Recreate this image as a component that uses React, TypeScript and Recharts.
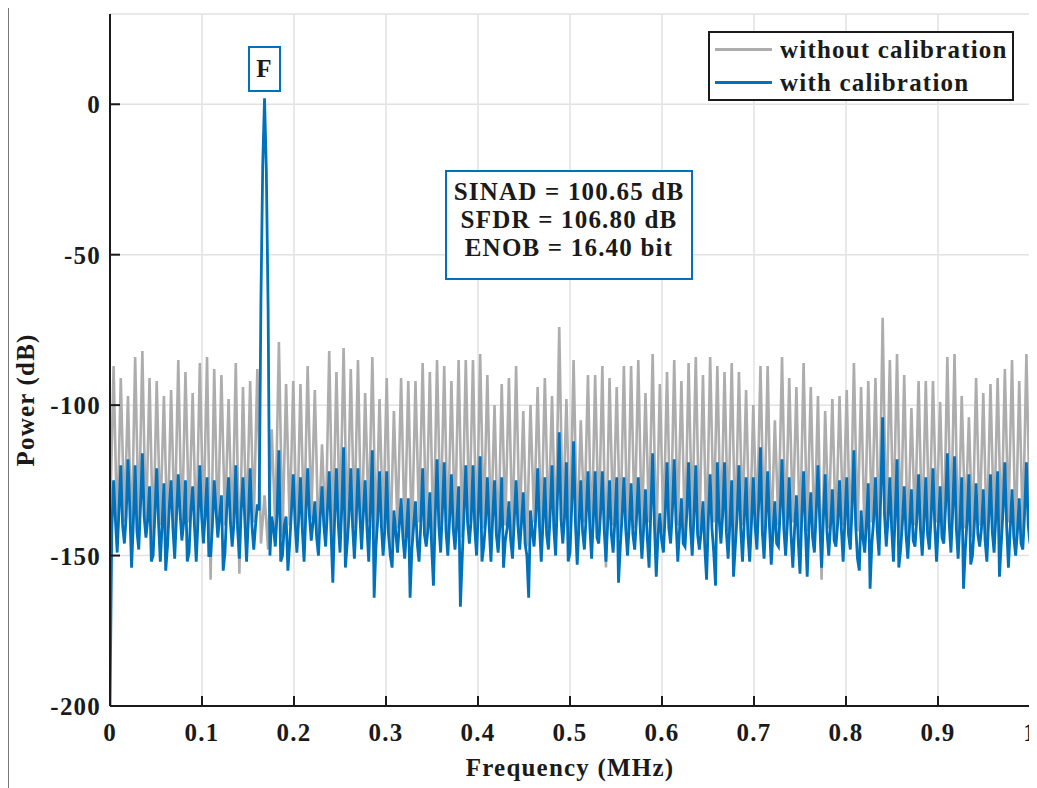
import React from "react";
import { LineChart, Line, XAxis, YAxis, CartesianGrid, Legend } from "recharts";

const FONT = '"Liberation Serif", "Times New Roman", serif';
const INK = "#1a1a1a";
const BLUE = "#0072bd";
const GREY = "#adadad";

const xTicks = [0, 0.1, 0.2, 0.3, 0.4, 0.5, 0.6, 0.7, 0.8, 0.9, 1];
const yTicks = [-200, -150, -100, -50, 0];
const seriesNames = ["without calibration", "with calibration"];

// spur peaks of the uncalibrated spectrum, one per 1/128 MHz
const greyPeaks = [
  -87, -91, -97, -84, -82, -91, -92, -97, -95, -85,
  -89, -96, -86, -84, -88, -90, -98, -86, -94, -92,
  -88, -130, -108, -79, -93, -92, -93, -87, -95, -113,
  -82, -89, -81, -88, -85, -96, -84, -98, -91, -102,
  -91, -92, -92, -86, -89, -85, -87, -92, -85, -85,
  -85, -83, -90, -100, -93, -91, -87, -102, -100, -94,
  -91, -97, -74, -98, -85, -105, -90, -90, -87, -91,
  -94, -87, -87, -85, -96, -83, -93, -89, -85, -92,
  -86, -84, -90, -84, -87, -89, -86, -89, -95, -100,
  -87, -87, -105, -84, -91, -94, -86, -94, -97, -102,
  -98, -97, -95, -86, -94, -92, -91, -71, -85, -83,
  -90, -101, -92, -92, -92, -99, -84, -83, -97, -104,
  -91, -96, -93, -91, -88, -85, -92, -83,
];

// floor between the spurs of the uncalibrated spectrum
const greyTroughs = [
  -140, -144, -139, -146, -141, -143, -147, -140, -145, -142,
  -144, -139, -146, -141, -158, -143, -140, -145, -156, -142,
  -139, -146, -148, -141, -144, -140, -147, -142, -138, -145,
  -143, -146, -140, -144, -141, -147, -139, -145, -142, -148,
  -141, -144, -146, -139, -143, -147, -140, -145, -142, -144,
  -139, -146, -141, -143, -148, -140, -145, -142, -147, -139,
  -144, -141, -146, -140, -143, -145, -139, -147, -142, -154,
  -140, -144, -146, -141, -143, -139, -148, -142, -145, -140,
  -146, -141, -143, -147, -139, -144, -142, -145, -140, -146,
  -141, -143, -147, -140, -144, -139, -146, -142, -145, -158,
  -141, -144, -140, -147, -142, -145, -139, -146, -143, -141,
  -144, -147, -140, -145, -142, -139, -146, -143, -148, -141,
  -144, -140, -146, -142, -145, -139, -147, -143, -140,
];

// calibrated spectrum, 512 bins over 0..1 MHz (+ last bin)
const blueSpectrum = [
  -200, -141, -125, -138, -149, -135, -120, -140,
  -146, -137, -118, -134, -154, -139, -120, -142,
  -148, -133, -116, -137, -144, -138, -127, -152,
  -150, -136, -121, -139, -152, -140, -126, -155,
  -147, -134, -125, -141, -151, -137, -123, -136,
  -145, -139, -125, -152, -149, -135, -127, -140,
  -152, -138, -120, -137, -146, -136, -124, -150,
  -150, -140, -125, -135, -144, -137, -130, -155,
  -149, -134, -124, -139, -147, -139, -120, -141,
  -151, -135, -124, -138, -152, -138, -121, -140,
  -148, -140, -133, -135, -65, -20, 2, -22,
  -68, -150, -137, -141, -147, -136, -115, -152,
  -150, -140, -137, -155, -146, -135, -123, -139,
  -149, -138, -124, -141, -152, -136, -121, -137,
  -145, -139, -132, -144, -150, -137, -127, -140,
  -147, -135, -122, -142, -159, -138, -121, -139,
  -149, -134, -114, -154, -146, -137, -121, -140,
  -151, -139, -121, -136, -148, -136, -125, -141,
  -152, -133, -115, -164, -147, -138, -122, -140,
  -150, -141, -122, -143, -150, -154, -135, -142,
  -149, -140, -131, -144, -151, -142, -131, -164,
  -148, -140, -132, -146, -152, -139, -121, -143,
  -147, -141, -129, -147, -160, -137, -118, -140,
  -149, -135, -119, -142, -150, -138, -123, -141,
  -148, -139, -127, -167, -151, -136, -120, -139,
  -146, -138, -120, -141, -150, -135, -117, -152,
  -147, -139, -124, -140, -152, -137, -125, -143,
  -149, -140, -124, -154, -145, -141, -132, -145,
  -151, -138, -125, -140, -148, -139, -129, -146,
  -150, -164, -135, -142, -147, -137, -121, -140,
  -152, -139, -124, -143, -148, -136, -120, -141,
  -150, -131, -109, -138, -146, -137, -119, -152,
  -149, -133, -112, -139, -153, -140, -125, -142,
  -148, -137, -122, -140, -151, -138, -122, -144,
  -146, -136, -122, -141, -152, -139, -125, -143,
  -149, -138, -124, -159, -147, -137, -124, -141,
  -150, -140, -126, -143, -148, -138, -124, -140,
  -151, -141, -128, -144, -154, -135, -116, -140,
  -157, -143, -136, -145, -149, -136, -119, -141,
  -146, -135, -118, -139, -152, -141, -131, -146,
  -147, -136, -119, -140, -150, -137, -120, -143,
  -148, -142, -132, -147, -158, -138, -123, -141,
  -149, -160, -119, -138, -146, -136, -119, -142,
  -151, -139, -125, -157, -147, -137, -120, -141,
  -152, -138, -124, -143, -152, -139, -124, -140,
  -148, -133, -114, -142, -151, -138, -122, -140,
  -153, -142, -132, -146, -147, -135, -118, -141,
  -150, -139, -124, -143, -154, -141, -130, -145,
  -156, -137, -122, -141, -157, -140, -129, -144,
  -149, -136, -120, -139, -154, -138, -123, -142,
  -150, -140, -128, -145, -147, -139, -125, -141,
  -152, -138, -124, -143, -148, -134, -115, -140,
  -151, -155, -135, -144, -149, -139, -126, -161,
  -146, -138, -124, -142, -150, -129, -104, -136,
  -147, -138, -124, -141, -152, -136, -118, -154,
  -148, -139, -127, -143, -151, -140, -128, -145,
  -147, -138, -123, -141, -150, -139, -124, -143,
  -148, -137, -121, -140, -152, -140, -127, -144,
  -146, -134, -116, -139, -149, -135, -117, -141,
  -151, -139, -124, -161, -148, -138, -123, -153,
  -150, -140, -126, -143, -147, -141, -128, -145,
  -152, -138, -123, -142, -149, -137, -122, -157,
  -146, -135, -119, -140, -154, -141, -128, -144,
  -150, -142, -131, -146, -148, -136, -119, -140,
  -146,
];

const greyData = greyTroughs.flatMap((t, m) =>
  m < greyPeaks.length
    ? [
        { f: (2 * m) / 256, p: t },
        { f: (2 * m + 1) / 256, p: greyPeaks[m] },
      ]
    : [{ f: (2 * m) / 256, p: t }]
);
const blueData = blueSpectrum.map((p, i) => ({ f: i / 512, p }));

const textStyle: React.CSSProperties = {
  fontFamily: FONT,
  fontWeight: 700,
  fontSize: 25,
  letterSpacing: 1.2,
  fill: INK,
};

function fmtX(v: number) {
  return v === 0 || v === 1 ? String(v) : v.toFixed(1);
}

const BottomTick = ({ x, y, payload }: any) => (
  <g>
    <line x1={x} x2={x} y1={y} y2={y - 10} stroke={INK} strokeWidth={2} />
    <text x={x} y={y + 35} textAnchor="middle" style={textStyle}>
      {fmtX(payload.value)}
    </text>
  </g>
);

const TopTick = ({ x, y }: any) => (
  <line x1={x} x2={x} y1={y} y2={y + 10} stroke={INK} strokeWidth={2} />
);

const LeftTick = ({ x, y, payload }: any) => (
  <g>
    <line x1={x} x2={x + 10} y1={y} y2={y} stroke={INK} strokeWidth={2} />
    <text x={x - 9} y={y + 9} textAnchor="end" style={textStyle}>
      {payload.value}
    </text>
  </g>
);

const RightTick = ({ x, y }: any) => (
  <line x1={x} x2={x - 10} y1={y} y2={y} stroke={INK} strokeWidth={2} />
);

const XTitle = ({ viewBox }: any) => (
  <text x={viewBox.x + viewBox.width / 2} y={viewBox.y + 70} textAnchor="middle" style={textStyle}>
    Frequency (MHz)
  </text>
);

const YTitle = ({ viewBox }: any) => {
  const cx = viewBox.x + 5;
  const cy = viewBox.y + 386;
  return (
    <text
      x={cx}
      y={cy}
      textAnchor="middle"
      dominantBaseline="central"
      transform={`rotate(-90 ${cx} ${cy})`}
      style={textStyle}
    >
      Power (dB)
    </text>
  );
};

const LegendBox = ({ payload }: any) => {
  const items = [...(payload || [])].sort(
    (a: any, b: any) => seriesNames.indexOf(a.value) - seriesNames.indexOf(b.value)
  );
  return (
    <div
      style={{
        boxSizing: "border-box",
        width: 306,
        height: 70,
        border: `2px solid ${INK}`,
        background: "#fff",
        fontFamily: FONT,
        fontWeight: 700,
        fontSize: 25,
        letterSpacing: 1.2,
        color: INK,
      }}
    >
      {items.map((e: any) => (
        <div key={e.value} style={{ display: "flex", alignItems: "center", height: 33 }}>
          <div style={{ marginLeft: 5, width: 57, height: 3, background: e.color }} />
          <span style={{ marginLeft: 8, whiteSpace: "nowrap" }}>{e.value}</span>
        </div>
      ))}
    </div>
  );
};

const boxText: React.CSSProperties = {
  position: "absolute",
  boxSizing: "border-box",
  border: `2px solid ${BLUE}`,
  background: "#fff",
  fontFamily: FONT,
  fontWeight: 700,
  fontSize: 25,
  letterSpacing: 1.2,
  color: INK,
  textAlign: "center",
};

export default function App() {
  return (
    <div style={{ position: "relative", width: 1029, height: 780 }}>
      <div
        style={{
          position: "absolute",
          left: 0,
          top: -3,
          width: 1029,
          height: 783,
          borderLeft: "1.5px solid #777",
          borderTop: "1.5px solid #777",
          boxSizing: "border-box",
        }}
      />
      <LineChart width={1029} height={780} margin={{ top: 6, right: 7, left: 12, bottom: 32 }}>
        <CartesianGrid stroke="#e2e2e2" strokeWidth={1.5} />
        <XAxis
          dataKey="f"
          type="number"
          domain={[0, 1]}
          ticks={xTicks}
          allowDataOverflow
          height={50}
          tickSize={0}
          tickMargin={0}
          tick={<BottomTick />}
          axisLine={{ stroke: INK, strokeWidth: 2 }}
          label={<XTitle />}
        />
        <XAxis
          xAxisId="top"
          orientation="top"
          dataKey="f"
          type="number"
          domain={[0, 1]}
          ticks={xTicks}
          allowDataOverflow
          height={0}
          tickSize={0}
          tickMargin={0}
          tick={<TopTick />}
          axisLine={{ stroke: INK, strokeWidth: 2 }}
        />
        <YAxis
          type="number"
          domain={[-200, 30]}
          ticks={yTicks}
          allowDataOverflow
          width={90}
          tickSize={0}
          tickMargin={0}
          tick={<LeftTick />}
          axisLine={{ stroke: INK, strokeWidth: 2 }}
          label={<YTitle />}
        />
        <YAxis
          yAxisId="right"
          orientation="right"
          type="number"
          domain={[-200, 30]}
          ticks={yTicks}
          allowDataOverflow
          width={0}
          tickSize={0}
          tickMargin={0}
          tick={<RightTick />}
          axisLine={{ stroke: INK, strokeWidth: 2 }}
        />
        <Line
          data={greyData}
          dataKey="p"
          name={seriesNames[0]}
          type="linear"
          stroke={GREY}
          strokeWidth={2.6}
          dot={false}
          activeDot={false}
          isAnimationActive={false}
        />
        <Line
          data={blueData}
          dataKey="p"
          name={seriesNames[1]}
          type="linear"
          stroke={BLUE}
          strokeWidth={2.8}
          dot={false}
          activeDot={false}
          isAnimationActive={false}
        />
        <Legend
          layout="vertical"
          align="center"
          verticalAlign="middle"
          wrapperStyle={{ left: 700, top: 23, width: 306, height: 70 }}
          content={<LegendBox />}
        />
      </LineChart>
      <div style={{ ...boxText, left: 240, top: 38, width: 33, height: 46, lineHeight: "42px" }}>F</div>
      <div style={{ ...boxText, left: 437, top: 162, width: 248, height: 110, paddingTop: 6, lineHeight: "28px" }}>
        <div>SINAD = 100.65 dB</div>
        <div>SFDR = 106.80 dB</div>
        <div>ENOB = 16.40 bit</div>
      </div>
    </div>
  );
}
